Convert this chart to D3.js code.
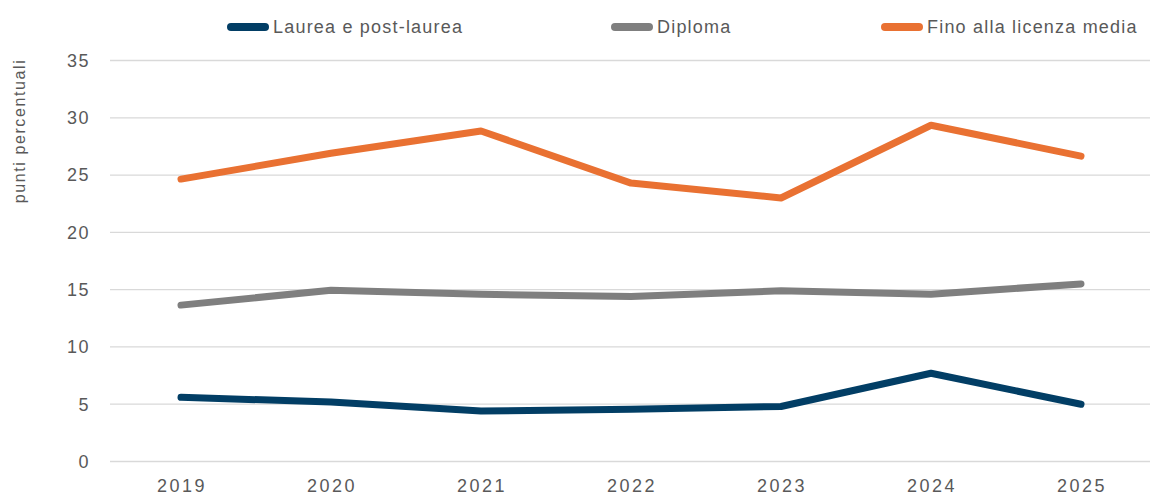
<!DOCTYPE html>
<html>
<head>
<meta charset="utf-8">
<script src="https://d3js.org/d3.v7.min.js"></script>
<style>
body { margin: 0; background: #fff; }
text { font-family: "Liberation Sans", Arial, sans-serif; fill: #595959; }
</style>
</head>
<body>
<svg id="chart" width="1150" height="497"></svg>
<script>
const years = ["2019", "2020", "2021", "2022", "2023", "2024", "2025"];
const laurea = [5.6, 5.2, 4.4, 4.55, 4.8, 7.7, 5.0];
const diploma = [13.65, 14.95, 14.6, 14.4, 14.9, 14.6, 15.5];
const licenza = [24.65, 26.9, 28.85, 24.3, 23.0, 29.35, 26.65];
const yTicks = [0, 5, 10, 15, 20, 25, 30, 35];

const series = [
  { name: "Laurea e post-laurea", values: laurea, color: "#023e65", lx: 228 },
  { name: "Diploma", values: diploma, color: "#7f7f7f", lx: 612 },
  { name: "Fino alla licenza media", values: licenza, color: "#e97132", lx: 882 }
];

const svg = d3.select("#chart");

const x = d3.scaleBand().domain(years).range([106, 1156]);
const y = d3.scaleLinear().domain([0, 35]).range([461.5, 60.5]);

// gridlines
svg.append("g")
   .selectAll("line")
   .data(yTicks)
   .join("line")
   .attr("x1", 110)
   .attr("x2", 1150)
   .attr("y1", d => y(d))
   .attr("y2", d => y(d))
   .attr("stroke", "#d9d9d9")
   .attr("stroke-width", 1.3);

// y tick labels
svg.append("g")
   .selectAll("text")
   .data(yTicks)
   .join("text")
   .attr("x", 90)
   .attr("y", d => y(d))
   .attr("dy", "0.35em")
   .attr("text-anchor", "end")
   .attr("font-size", 18)
   .attr("letter-spacing", 1.5)
   .text(d => d);

// x labels
svg.append("g")
   .selectAll("text")
   .data(years)
   .join("text")
   .attr("x", d => x(d) + x.bandwidth() / 2 + 1)
   .attr("y", 492)
   .attr("text-anchor", "middle")
   .attr("font-size", 18)
   .attr("letter-spacing", 2.5)
   .text(d => d);

// y axis title
svg.append("text")
   .attr("transform", "translate(25,131) rotate(-90)")
   .attr("text-anchor", "middle")
   .attr("font-size", 16)
   .attr("letter-spacing", 1.6)
   .text("punti percentuali");

let lineGen = d3.line()
                .x((d, i) => x(years[i]) + x.bandwidth() / 2)
                .y(d => y(d));

svg.append("g")
   .selectAll("path")
   .data(series)
   .join("path")
   .attr("d", d => lineGen(d.values))
   .attr("fill", "none")
   .attr("stroke", d => d.color)
   .attr("stroke-width", 7)
   .attr("stroke-linecap", "round")
   .attr("stroke-linejoin", "round");

// legend
let legend = svg.append("g")
                .selectAll("g")
                .data(series)
                .join("g")
                .attr("transform", d => "translate(" + d.lx + ",27)");

legend.append("line")
      .attr("x1", 3)
      .attr("x2", 37)
      .attr("stroke", d => d.color)
      .attr("stroke-width", 8)
      .attr("stroke-linecap", "round");

legend.append("text")
      .attr("x", 45)
      .attr("dy", "0.35em")
      .attr("font-size", 18)
      .attr("letter-spacing", 1.2)
      .text(d => d.name);
</script>
</body>
</html>
